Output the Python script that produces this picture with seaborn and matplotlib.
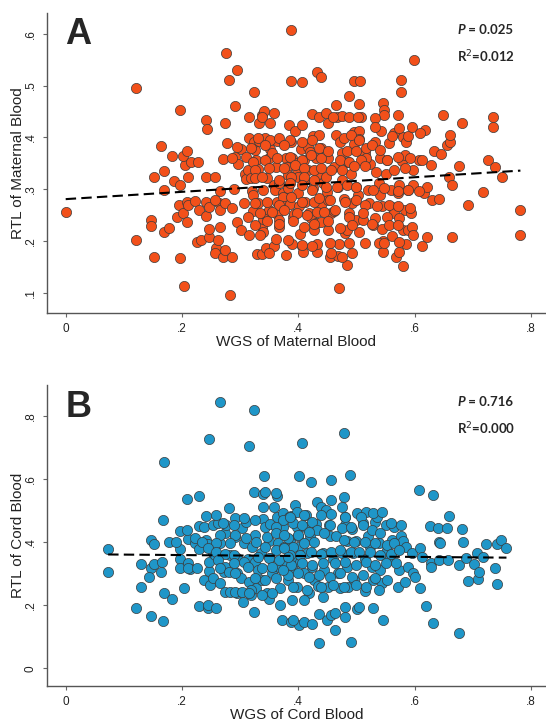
import numpy as np
import pandas as pd
import matplotlib
matplotlib.use("Agg")
import matplotlib.pyplot as plt
import seaborn as sns

# (WGS, RTL) pairs, panel A = maternal blood
maternal_points = [
    (0.000, 0.257), (0.121, 0.495), (0.121, 0.203), (0.146, 0.241), (0.146, 0.230), (0.151, 0.170),
    (0.151, 0.323), (0.164, 0.384), (0.169, 0.336), (0.169, 0.299), (0.169, 0.217), (0.178, 0.225),
    (0.183, 0.364), (0.187, 0.316), (0.196, 0.309), (0.197, 0.452), (0.197, 0.167), (0.204, 0.114),
    (0.195, 0.269), (0.191, 0.246), (0.202, 0.255), (0.209, 0.237), (0.205, 0.346), (0.202, 0.365),
    (0.209, 0.373), (0.210, 0.324), (0.208, 0.276), (0.211, 0.269), (0.216, 0.352), (0.227, 0.352),
    (0.223, 0.277), (0.229, 0.261), (0.226, 0.199), (0.232, 0.202), (0.241, 0.433), (0.243, 0.417),
    (0.242, 0.323), (0.241, 0.249), (0.242, 0.276), (0.247, 0.265), (0.246, 0.208), (0.247, 0.223),
    (0.258, 0.186), (0.256, 0.178), (0.265, 0.296), (0.264, 0.273), (0.266, 0.261), (0.270, 0.170),
    (0.271, 0.359), (0.274, 0.427), (0.275, 0.562), (0.277, 0.389), (0.281, 0.511), (0.283, 0.096),
    (0.289, 0.300), (0.291, 0.461), (0.291, 0.363), (0.295, 0.530), (0.297, 0.348), (0.301, 0.378),
    (0.295, 0.237), (0.301, 0.221), (0.307, 0.273), (0.309, 0.330), (0.310, 0.320), (0.313, 0.337),
    (0.315, 0.399), (0.316, 0.440), (0.315, 0.211), (0.318, 0.321), (0.320, 0.297), (0.322, 0.288),
    (0.322, 0.258), (0.325, 0.376), (0.324, 0.391), (0.324, 0.488), (0.328, 0.356), (0.330, 0.340),
    (0.330, 0.273), (0.329, 0.176), (0.337, 0.176), (0.333, 0.427), (0.337, 0.443), (0.341, 0.450),
    (0.333, 0.394), (0.343, 0.399), (0.337, 0.228), (0.340, 0.242), (0.343, 0.253), (0.349, 0.260),
    (0.340, 0.218), (0.344, 0.186), (0.346, 0.321), (0.350, 0.360), (0.352, 0.378), (0.355, 0.370),
    (0.358, 0.190), (0.359, 0.308), (0.360, 0.299), (0.361, 0.204), (0.361, 0.343), (0.363, 0.393),
    (0.364, 0.276), (0.364, 0.253), (0.366, 0.241), (0.367, 0.228), (0.366, 0.313), (0.373, 0.293),
    (0.374, 0.285), (0.376, 0.267), (0.379, 0.361), (0.380, 0.343), (0.382, 0.327), (0.383, 0.302),
    (0.384, 0.424), (0.385, 0.272), (0.388, 0.392), (0.388, 0.607), (0.388, 0.509), (0.390, 0.361),
    (0.390, 0.194), (0.391, 0.247), (0.392, 0.253), (0.394, 0.412), (0.397, 0.340), (0.398, 0.350),
    (0.400, 0.324), (0.400, 0.293), (0.401, 0.267), (0.403, 0.213), (0.404, 0.378), (0.406, 0.507),
    (0.407, 0.190), (0.408, 0.180), (0.409, 0.318), (0.409, 0.357), (0.412, 0.276), (0.416, 0.382),
    (0.417, 0.337), (0.418, 0.254), (0.421, 0.244), (0.420, 0.372), (0.424, 0.446), (0.425, 0.403),
    (0.426, 0.302), (0.427, 0.222), (0.430, 0.235), (0.431, 0.360), (0.432, 0.180), (0.433, 0.527),
    (0.439, 0.517), (0.433, 0.195), (0.436, 0.440), (0.436, 0.404), (0.434, 0.330), (0.439, 0.270),
    (0.439, 0.237), (0.442, 0.312), (0.447, 0.324), (0.449, 0.295), (0.451, 0.279), (0.451, 0.427),
    (0.451, 0.361), (0.451, 0.222), (0.454, 0.170), (0.457, 0.254), (0.462, 0.259), (0.462, 0.343),
    (0.464, 0.463), (0.464, 0.405), (0.466, 0.439), (0.475, 0.441), (0.468, 0.305), (0.469, 0.171),
    (0.470, 0.109), (0.470, 0.194), (0.472, 0.392), (0.475, 0.370), (0.475, 0.318), (0.478, 0.282),
    (0.479, 0.399), (0.481, 0.215), (0.484, 0.222), (0.484, 0.154), (0.486, 0.353), (0.487, 0.254),
    (0.487, 0.479), (0.490, 0.330), (0.492, 0.273), (0.496, 0.508), (0.496, 0.410), (0.496, 0.388),
    (0.499, 0.305), (0.502, 0.289), (0.500, 0.241), (0.504, 0.218), (0.505, 0.465), (0.506, 0.508),
    (0.505, 0.412), (0.505, 0.396), (0.508, 0.439), (0.511, 0.241), (0.514, 0.197), (0.514, 0.370),
    (0.517, 0.379), (0.520, 0.299), (0.522, 0.273), (0.523, 0.349), (0.529, 0.231), (0.532, 0.392),
    (0.534, 0.334), (0.538, 0.312), (0.541, 0.361), (0.541, 0.289), (0.542, 0.412), (0.544, 0.224),
    (0.544, 0.267), (0.546, 0.466), (0.547, 0.453), (0.547, 0.444), (0.550, 0.330), (0.545, 0.200),
    (0.545, 0.180), (0.553, 0.356), (0.559, 0.299), (0.561, 0.265), (0.562, 0.210), (0.564, 0.409),
    (0.565, 0.254), (0.568, 0.170), (0.571, 0.293), (0.574, 0.309), (0.577, 0.511), (0.577, 0.488),
    (0.578, 0.354), (0.580, 0.400), (0.580, 0.222), (0.589, 0.222), (0.580, 0.152), (0.583, 0.367),
    (0.586, 0.392), (0.583, 0.260), (0.586, 0.194), (0.589, 0.299), (0.594, 0.254), (0.597, 0.337),
    (0.598, 0.309), (0.599, 0.549), (0.607, 0.356), (0.616, 0.293), (0.618, 0.415), (0.622, 0.305),
    (0.622, 0.208), (0.628, 0.346), (0.630, 0.279), (0.634, 0.373), (0.642, 0.282), (0.646, 0.368),
    (0.649, 0.443), (0.655, 0.385), (0.661, 0.392), (0.661, 0.404), (0.660, 0.323), (0.664, 0.309),
    (0.665, 0.208), (0.676, 0.345), (0.682, 0.427), (0.691, 0.269), (0.718, 0.295), (0.727, 0.356),
    (0.734, 0.440), (0.734, 0.420), (0.739, 0.343), (0.751, 0.323), (0.782, 0.261), (0.782, 0.211),
    # dense core
    (0.337, 0.440), (0.358, 0.447), (0.352, 0.427), (0.331, 0.398), (0.352, 0.395), (0.367, 0.398),
    (0.385, 0.395), (0.406, 0.424), (0.406, 0.392), (0.424, 0.395), (0.439, 0.379), (0.295, 0.382),
    (0.319, 0.379), (0.343, 0.386), (0.376, 0.386), (0.286, 0.360), (0.310, 0.363), (0.322, 0.353),
    (0.343, 0.357), (0.364, 0.360), (0.385, 0.363), (0.406, 0.357), (0.421, 0.366), (0.439, 0.360),
    (0.325, 0.337), (0.349, 0.341), (0.376, 0.341), (0.394, 0.347), (0.409, 0.341), (0.427, 0.337),
    (0.256, 0.324), (0.325, 0.321), (0.337, 0.324), (0.367, 0.318), (0.388, 0.324), (0.409, 0.324),
    (0.427, 0.318), (0.340, 0.299), (0.385, 0.312), (0.406, 0.308), (0.424, 0.299), (0.256, 0.279),
    (0.274, 0.273), (0.286, 0.263), (0.325, 0.273), (0.346, 0.276), (0.367, 0.270), (0.388, 0.286),
    (0.406, 0.276), (0.427, 0.276), (0.313, 0.247), (0.334, 0.254), (0.355, 0.257), (0.376, 0.260),
    (0.397, 0.254), (0.415, 0.251), (0.433, 0.257), (0.325, 0.231), (0.346, 0.238), (0.367, 0.234),
    (0.391, 0.238), (0.409, 0.228), (0.427, 0.234), (0.265, 0.228), (0.262, 0.202), (0.334, 0.212),
    (0.382, 0.202), (0.406, 0.193), (0.424, 0.190), (0.274, 0.183), (0.286, 0.170), (0.349, 0.177),
    (0.379, 0.173), (0.448, 0.447), (0.460, 0.440), (0.487, 0.440), (0.502, 0.440), (0.532, 0.437),
    (0.532, 0.421), (0.571, 0.443), (0.574, 0.418), (0.490, 0.405), (0.505, 0.395), (0.526, 0.386),
    (0.541, 0.376), (0.556, 0.389), (0.562, 0.402), (0.589, 0.402), (0.595, 0.421), (0.610, 0.408),
    (0.436, 0.379), (0.451, 0.373), (0.484, 0.373), (0.499, 0.373), (0.517, 0.360), (0.472, 0.357),
    (0.487, 0.353), (0.508, 0.357), (0.553, 0.357), (0.571, 0.363), (0.592, 0.360), (0.613, 0.357),
    (0.439, 0.341), (0.457, 0.337), (0.475, 0.337), (0.496, 0.344), (0.514, 0.344), (0.565, 0.337),
    (0.583, 0.341), (0.448, 0.305), (0.466, 0.305), (0.484, 0.308), (0.499, 0.305), (0.529, 0.299),
    (0.547, 0.302), (0.571, 0.296), (0.589, 0.299), (0.607, 0.296), (0.436, 0.283), (0.454, 0.279),
    (0.481, 0.276), (0.499, 0.279), (0.514, 0.270), (0.535, 0.267), (0.556, 0.270), (0.571, 0.267),
    (0.592, 0.263), (0.445, 0.257), (0.463, 0.260), (0.487, 0.247), (0.511, 0.254), (0.532, 0.244),
    (0.553, 0.247), (0.574, 0.244), (0.451, 0.238), (0.472, 0.225), (0.493, 0.231), (0.526, 0.234),
    (0.556, 0.231), (0.571, 0.231), (0.595, 0.228), (0.454, 0.196), (0.487, 0.196), (0.538, 0.196),
    (0.547, 0.196), (0.574, 0.199), (0.574, 0.180), (0.598, 0.212), (0.613, 0.190), (0.457, 0.177),
    (0.475, 0.170), (0.493, 0.177),
]

# (WGS, RTL) pairs, panel B = cord blood
cord_points = [
    (0.073, 0.378), (0.073, 0.304), (0.121, 0.192), (0.129, 0.330), (0.129, 0.259), (0.147, 0.407),
    (0.151, 0.394), (0.147, 0.319), (0.151, 0.331), (0.144, 0.289), (0.147, 0.166), (0.165, 0.338),
    (0.164, 0.306), (0.167, 0.470), (0.169, 0.238), (0.168, 0.150), (0.169, 0.653), (0.178, 0.402),
    (0.183, 0.220), (0.196, 0.436), (0.196, 0.378), (0.196, 0.347), (0.197, 0.317), (0.204, 0.256),
    (0.208, 0.536), (0.210, 0.410), (0.211, 0.335), (0.214, 0.315), (0.222, 0.396), (0.230, 0.546),
    (0.230, 0.451), (0.238, 0.449), (0.230, 0.377), (0.230, 0.199), (0.241, 0.484), (0.241, 0.407),
    (0.244, 0.394), (0.238, 0.280), (0.244, 0.190), (0.247, 0.726), (0.246, 0.310), (0.249, 0.264),
    (0.247, 0.336), (0.254, 0.455), (0.262, 0.462), (0.253, 0.367), (0.257, 0.359), (0.265, 0.843),
    (0.265, 0.396), (0.274, 0.428), (0.276, 0.455), (0.272, 0.304), (0.274, 0.322), (0.274, 0.243),
    (0.282, 0.243), (0.280, 0.507), (0.282, 0.359), (0.292, 0.476), (0.292, 0.417), (0.295, 0.349),
    (0.294, 0.301), (0.295, 0.238), (0.301, 0.285), (0.305, 0.211), (0.304, 0.444), (0.307, 0.396),
    (0.310, 0.464), (0.313, 0.346), (0.316, 0.705), (0.316, 0.275), (0.318, 0.233), (0.320, 0.386),
    (0.324, 0.560), (0.323, 0.819), (0.324, 0.180), (0.325, 0.423), (0.326, 0.338), (0.328, 0.254),
    (0.331, 0.312), (0.337, 0.280), (0.336, 0.365), (0.340, 0.512), (0.340, 0.473), (0.341, 0.611),
    (0.340, 0.553), (0.343, 0.449), (0.346, 0.238), (0.349, 0.219), (0.350, 0.405), (0.352, 0.458),
    (0.352, 0.349), (0.355, 0.301), (0.363, 0.547), (0.364, 0.481), (0.365, 0.397), (0.367, 0.322),
    (0.368, 0.201), (0.369, 0.254), (0.372, 0.153), (0.373, 0.493), (0.374, 0.449), (0.376, 0.386),
    (0.379, 0.338), (0.383, 0.280), (0.385, 0.407), (0.387, 0.484), (0.388, 0.148), (0.390, 0.217),
    (0.391, 0.354), (0.391, 0.312), (0.394, 0.518), (0.397, 0.257), (0.397, 0.449), (0.400, 0.418),
    (0.400, 0.386), (0.401, 0.610), (0.402, 0.139), (0.403, 0.338), (0.406, 0.713), (0.409, 0.301),
    (0.412, 0.449), (0.414, 0.486), (0.415, 0.365), (0.418, 0.238), (0.420, 0.420), (0.421, 0.592),
    (0.423, 0.322), (0.427, 0.280), (0.430, 0.459), (0.432, 0.528), (0.434, 0.261), (0.436, 0.081),
    (0.436, 0.172), (0.439, 0.512), (0.442, 0.365), (0.445, 0.312), (0.448, 0.502), (0.450, 0.153),
    (0.451, 0.258), (0.452, 0.455), (0.454, 0.420), (0.456, 0.170), (0.457, 0.596), (0.457, 0.488),
    (0.460, 0.348), (0.463, 0.122), (0.464, 0.418), (0.468, 0.301), (0.472, 0.254), (0.475, 0.365),
    (0.478, 0.745), (0.478, 0.544), (0.480, 0.481), (0.480, 0.196), (0.481, 0.455), (0.483, 0.403),
    (0.484, 0.322), (0.486, 0.259), (0.489, 0.613), (0.490, 0.085), (0.493, 0.443), (0.494, 0.365),
    (0.496, 0.280), (0.499, 0.403), (0.501, 0.493), (0.501, 0.187), (0.511, 0.462), (0.514, 0.346),
    (0.514, 0.246), (0.517, 0.496), (0.520, 0.420), (0.523, 0.386), (0.526, 0.322), (0.529, 0.280),
    (0.532, 0.465), (0.535, 0.479), (0.538, 0.397), (0.541, 0.312), (0.544, 0.269), (0.545, 0.153),
    (0.550, 0.455), (0.553, 0.375), (0.556, 0.344), (0.562, 0.407), (0.565, 0.449), (0.571, 0.259),
    (0.574, 0.312), (0.577, 0.418), (0.580, 0.403), (0.583, 0.275), (0.586, 0.386), (0.589, 0.322),
    (0.595, 0.365), (0.598, 0.301), (0.601, 0.291), (0.607, 0.565), (0.610, 0.380), (0.612, 0.354),
    (0.610, 0.255), (0.619, 0.199), (0.626, 0.451), (0.628, 0.333), (0.628, 0.322), (0.632, 0.551),
    (0.632, 0.145), (0.640, 0.444), (0.642, 0.399), (0.644, 0.396), (0.642, 0.344), (0.656, 0.444),
    (0.658, 0.344), (0.660, 0.483), (0.676, 0.111), (0.677, 0.328), (0.682, 0.442), (0.684, 0.399),
    (0.688, 0.349), (0.692, 0.278), (0.703, 0.331), (0.708, 0.367), (0.709, 0.282), (0.710, 0.306),
    (0.718, 0.354), (0.722, 0.393), (0.739, 0.317), (0.741, 0.395), (0.742, 0.266), (0.748, 0.408),
    (0.758, 0.380),
    # dense core
    (0.384, 0.481), (0.397, 0.497), (0.409, 0.486), (0.391, 0.460), (0.406, 0.454), (0.424, 0.465),
    (0.439, 0.486), (0.457, 0.534), (0.475, 0.512), (0.481, 0.481), (0.454, 0.454), (0.433, 0.438),
    (0.418, 0.433), (0.400, 0.423), (0.382, 0.412), (0.391, 0.386), (0.409, 0.396), (0.427, 0.401),
    (0.445, 0.428), (0.475, 0.444), (0.490, 0.449), (0.508, 0.481), (0.529, 0.491), (0.544, 0.497),
    (0.511, 0.454), (0.526, 0.438), (0.541, 0.428), (0.559, 0.460), (0.577, 0.454), (0.478, 0.407),
    (0.496, 0.401), (0.514, 0.401), (0.532, 0.396), (0.553, 0.391), (0.565, 0.396), (0.385, 0.359),
    (0.403, 0.359), (0.421, 0.370), (0.439, 0.364), (0.457, 0.370), (0.472, 0.375), (0.490, 0.370),
    (0.505, 0.370), (0.523, 0.370), (0.541, 0.359), (0.559, 0.364), (0.574, 0.375), (0.388, 0.327),
    (0.406, 0.333), (0.424, 0.327), (0.442, 0.333), (0.463, 0.333), (0.481, 0.338), (0.499, 0.327),
    (0.517, 0.338), (0.532, 0.327), (0.550, 0.333), (0.568, 0.333), (0.382, 0.296), (0.400, 0.301),
    (0.418, 0.291), (0.436, 0.296), (0.454, 0.291), (0.472, 0.301), (0.493, 0.291), (0.511, 0.296),
    (0.532, 0.285), (0.553, 0.280), (0.391, 0.259), (0.415, 0.248), (0.439, 0.259), (0.460, 0.264),
    (0.478, 0.259), (0.499, 0.264), (0.517, 0.259), (0.538, 0.248), (0.409, 0.216), (0.442, 0.227),
    (0.463, 0.174), (0.481, 0.164), (0.391, 0.153), (0.409, 0.148), (0.424, 0.142), (0.505, 0.195),
    (0.529, 0.190), (0.343, 0.560), (0.361, 0.555), (0.358, 0.512), (0.373, 0.470), (0.385, 0.481),
    (0.361, 0.449), (0.346, 0.417), (0.361, 0.428), (0.376, 0.423), (0.328, 0.401), (0.343, 0.386),
    (0.361, 0.375), (0.376, 0.380), (0.331, 0.354), (0.349, 0.349), (0.367, 0.343), (0.382, 0.354),
    (0.337, 0.317), (0.355, 0.322), (0.373, 0.312), (0.325, 0.285), (0.343, 0.280), (0.361, 0.285),
    (0.319, 0.248), (0.337, 0.232), (0.355, 0.238), (0.259, 0.486), (0.271, 0.460), (0.289, 0.454),
    (0.307, 0.475), (0.325, 0.470), (0.265, 0.423), (0.292, 0.423), (0.310, 0.412), (0.283, 0.396),
    (0.259, 0.396), (0.208, 0.438), (0.223, 0.412), (0.235, 0.401), (0.190, 0.401), (0.244, 0.380),
    (0.259, 0.370), (0.274, 0.364), (0.289, 0.359), (0.262, 0.343), (0.289, 0.333), (0.307, 0.338),
    (0.265, 0.317), (0.280, 0.306), (0.292, 0.301), (0.313, 0.322), (0.211, 0.317), (0.226, 0.317),
    (0.253, 0.285), (0.265, 0.269), (0.292, 0.243), (0.304, 0.243), (0.316, 0.238), (0.244, 0.201),
    (0.259, 0.190),
]

# fitted lines (intercept, slope)
maternal_fit = (0.281, 0.0703)
cord_fit = (0.362, -0.0146)

maternal_stats = ["0.025", "0.012"]
cord_stats = ["0.716", "0.000"]

maternal_yticks = [0.1, 0.2, 0.3, 0.4, 0.5, 0.6]
cord_yticks = [0.0, 0.2, 0.4, 0.6, 0.8]
xticks = [0.0, 0.2, 0.4, 0.6, 0.8]

orange = "#F2501A"
blue = "#1F96C8"

sns.set_style("ticks")
plt.rcParams["font.family"] = ["Liberation Sans", "DejaVu Sans"]


def stata_label(v):
    s = "{:g}".format(v)
    if s.startswith("0."):
        s = s[1:]
    return s


def panel(ax, points, fit, stats, yticks, ylim, color, letter, xlabel, ylabel):
    df = pd.DataFrame(points, columns=["wgs", "rtl"])
    sns.scatterplot(data=df, x="wgs", y="rtl", ax=ax, color=color, s=54,
                    edgecolor="#3a3a3a", linewidth=0.5, zorder=2)
    xs = np.array([df["wgs"].min(), df["wgs"].max()])
    line = pd.DataFrame({"wgs": xs, "rtl": fit[0] + fit[1] * xs})
    sns.lineplot(data=line, x="wgs", y="rtl", ax=ax, color="black", lw=1.5,
                 dashes=False, zorder=3)
    ax.lines[-1].set_dashes([5, 2.5])

    ax.set_xlim(-0.0327, 0.826)
    ax.set_ylim(*ylim)
    ax.set_xticks(xticks)
    ax.set_xticklabels([stata_label(v) for v in xticks])
    ax.set_yticks(yticks)
    ax.set_yticklabels([stata_label(v) for v in yticks], rotation=90, va="center")
    ax.tick_params(length=3, width=0.8, color="#666666", labelsize=8.5, labelcolor="#222222", pad=4)
    sns.despine(ax=ax)
    for sp in ["left", "bottom"]:
        ax.spines[sp].set_color("#555555")
        ax.spines[sp].set_linewidth(1.0)
    ax.set_xlabel(xlabel, fontsize=11, labelpad=0, color="#222222")
    ax.set_ylabel(ylabel, fontsize=11, color="#222222")
    ax.yaxis.set_label_coords(-0.0435, 0.5)

    ax.text(0.037, 0.985, letter, transform=ax.transAxes, fontsize=26, fontweight="bold",
            va="top", ha="left")
    stat_font = dict(fontsize=9.5, fontweight="bold", family=["Lato", "DejaVu Sans"])
    p = ax.text(0.822, 0.93, "P", transform=ax.transAxes, fontstyle="italic", ha="left", **stat_font)
    ax.annotate(" = " + stats[0], xy=(1, 0), xycoords=p, va="bottom", ha="left", **stat_font)
    ax.text(0.822, 0.835, "R$^{2}$=" + stats[1], transform=ax.transAxes, ha="left", **stat_font)


fig = plt.figure(figsize=(5.46, 7.21), dpi=100)
ax1 = fig.add_axes([0.0855, 0.5655, 0.9145, 0.4169])
ax2 = fig.add_axes([0.0855, 0.0485, 0.9145, 0.4175])

panel(ax1, maternal_points, maternal_fit, maternal_stats, maternal_yticks, (0.0609, 0.6405),
      orange, "A", "WGS of Maternal Blood", "RTL of Maternal Blood")
panel(ax2, cord_points, cord_fit, cord_stats, cord_yticks, (-0.056, 0.898),
      blue, "B", "WGS of Cord Blood", "RTL of Cord Blood")

fig.savefig("out.png", dpi=100)
